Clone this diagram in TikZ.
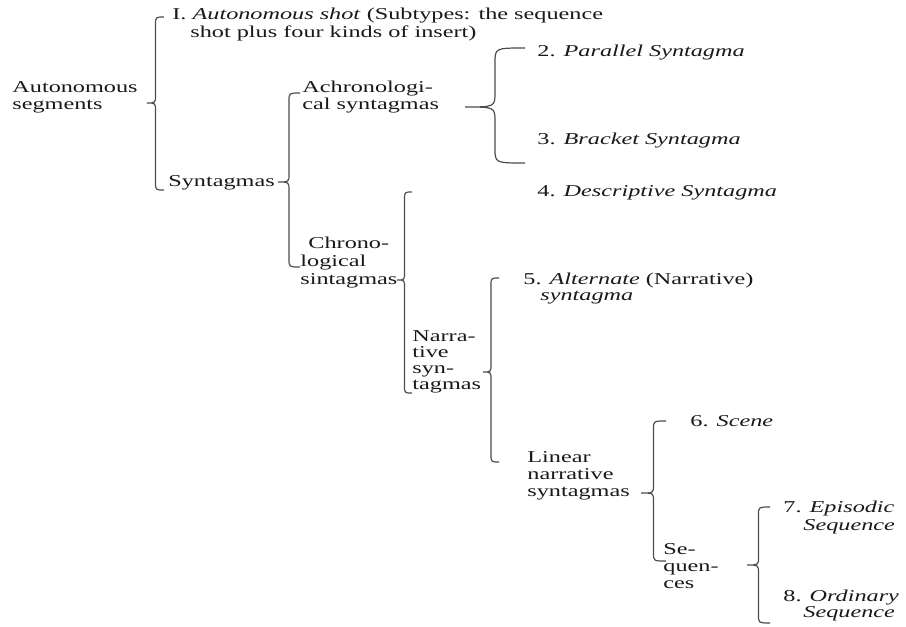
\documentclass[tikz,border=0pt]{standalone}
\usepackage{fontspec}
\setmainfont{Liberation Serif}[FakeStretch=1.46]
\usetikzlibrary{calc}
\tikzset{
  % plain label, left aligned, anchored at the baseline of its last line
  lbl/.style = {inner sep=0pt, anchor=base west, align=left, text=black!90,
                font=\fontsize{8.3}{8.4}\selectfont},
  % curly brace line
  brc/.style = {draw=black!70, line width=0.6pt},
}
% curly brace through three named points: top end, tip, bottom end
\newcommand{\curly}[3]{%
  \draw[brc] let \p1=(#1), \p2=(#2), \p3=(#3),
    \n1={(\x1+\x2)/2}, \n2={max(4pt,0.25*(\x1-\x2))} in
    (\p1) .. controls (\n1,\y1) .. (\n1,\y1-\n2) -- (\n1,\y2+\n2)
    .. controls (\n1,\y2) .. (\p2) .. controls (\n1,\y2) .. (\n1,\y2-\n2)
    -- (\n1,\y3+\n2) .. controls (\n1,\y3) .. (\p3);
}

\begin{document}
\begin{tikzpicture}[x=0.5pt, y=-0.5pt]
  \useasboundingbox (0,0) rectangle (906,627);

  % --- root ---
  \node[lbl] (auto) at (12,109) {Autonomous\\segments};

  % --- first level ---
  \node[lbl, font=\fontsize{8.3}{7}\selectfont] (shot) at (172,37)
       {I. \textit{Autonomous shot} (Subtypes: the sequence\\
        \hspace*{9pt}shot plus four kinds of insert)};
  \node[lbl] (syn) at (168,186) {Syntagmas};

  % --- syntagmas ---
  \node[lbl] (achr) at (302,109) {Achronologi-\\cal syntagmas};
  \node[lbl, font=\fontsize{8.3}{8.8}\selectfont] (chr) at (300,284)
       {\hspace*{4pt}Chrono-\\logical\\sintagmas};

  % achronological types
  \node[lbl] (par) at (537,56) {2. \textit{Parallel Syntagma}};
  \node[lbl] (brk) at (537,144) {3. \textit{Bracket Syntagma}};

  % chronological types
  \node[lbl] (desc) at (537,196) {4. \textit{Descriptive Syntagma}};
  \node[lbl, font=\fontsize{8.3}{8}\selectfont] (narr) at (412,389)
       {Narra-\\tive\\syn-\\tagmas};

  % narrative types
  \node[lbl, font=\fontsize{8.3}{8}\selectfont] (alt) at (523,300)
       {5. \textit{Alternate} (Narrative)\\\hspace*{8.5pt}\textit{syntagma}};
  \node[lbl] (lin) at (527,496) {Linear\\narrative\\syntagmas};

  % linear narrative types
  \node[lbl] (scn) at (690,426) {6. \textit{Scene}};
  \node[lbl] (seq) at (663,588) {Se-\\quen-\\ces};

  % sequences
  \node[lbl, font=\fontsize{8.3}{9}\selectfont] (epi) at (783,530)
       {7. \textit{Episodic}\\\hspace*{10pt}\textit{Sequence}};
  \node[lbl, font=\fontsize{8.3}{8}\selectfont] (ord) at (783,617)
       {8. \textit{Ordinary}\\\hspace*{10pt}\textit{Sequence}};

  % --- brace end points (top, tip, bottom) ---
  \coordinate (b1t) at (164,17);  \coordinate (b1m) at (147,103); \coordinate (b1b) at (164,190);
  \coordinate (b2t) at (300,93);  \coordinate (b2m) at (278,182); \coordinate (b2b) at (300,267);
  \coordinate (b3t) at (525,48);  \coordinate (b3m) at (465,107); \coordinate (b3b) at (525,163);
  \coordinate (b4t) at (412,192); \coordinate (b4m) at (397,280); \coordinate (b4b) at (412,393);
  \coordinate (b5t) at (499,278); \coordinate (b5m) at (483,372); \coordinate (b5b) at (499,462);
  \coordinate (b6t) at (666,421); \coordinate (b6m) at (641,493); \coordinate (b6b) at (666,561);
  \coordinate (b7t) at (770,507); \coordinate (b7m) at (747,565); \coordinate (b7b) at (770,623);

  % --- braces ---
  \curly{b1t}{b1m}{b1b}
  \curly{b2t}{b2m}{b2b}
  \curly{b3t}{b3m}{b3b}
  \curly{b4t}{b4m}{b4b}
  \curly{b5t}{b5m}{b5b}
  \curly{b6t}{b6m}{b6b}
  \curly{b7t}{b7m}{b7b}

\end{tikzpicture}
\end{document}
